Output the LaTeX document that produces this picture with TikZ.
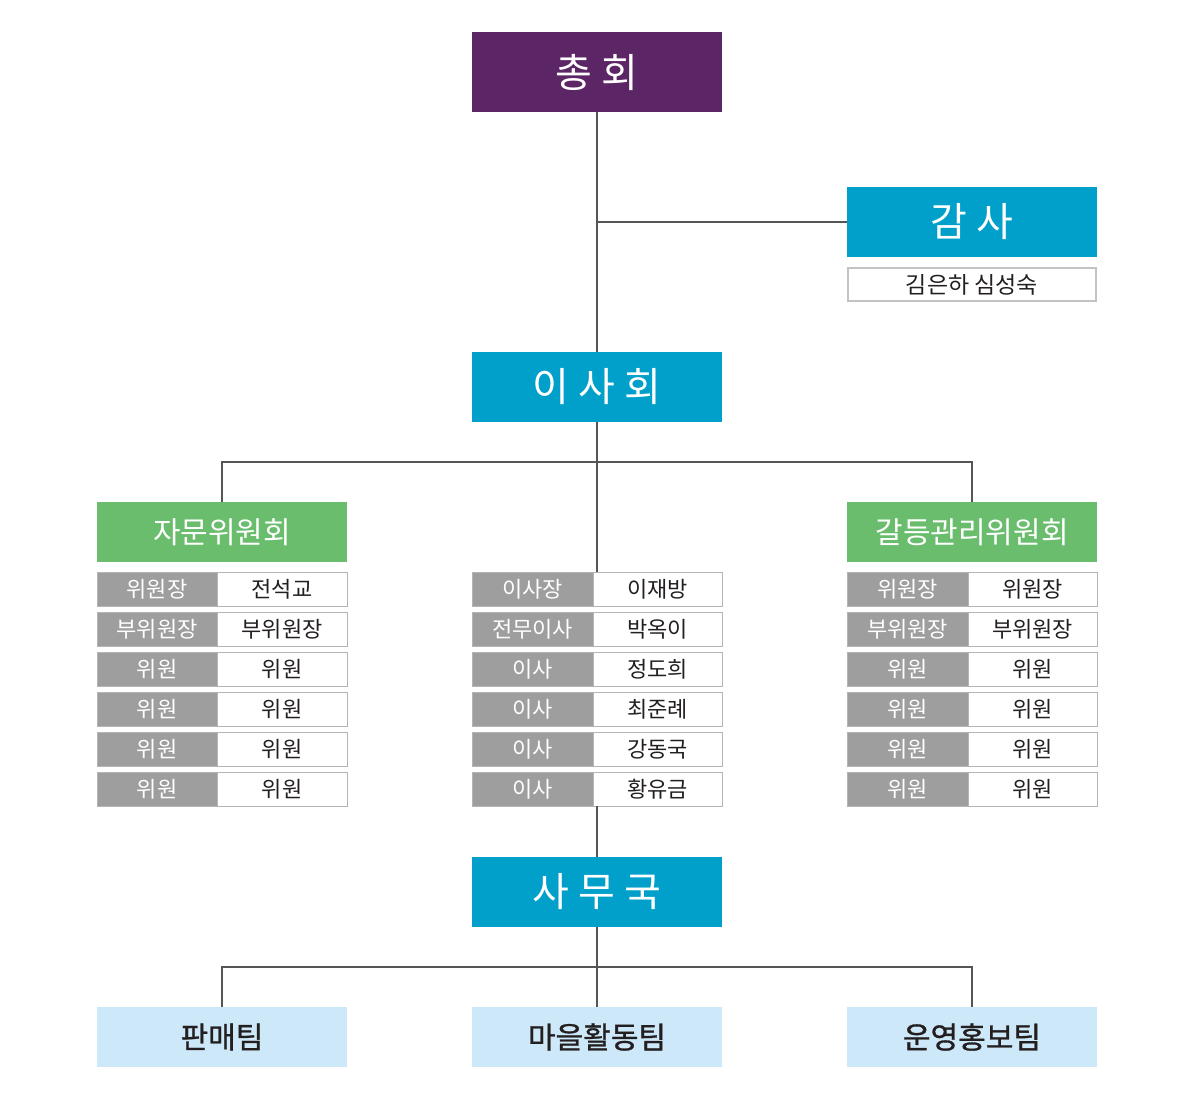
\documentclass[tikz,border=0pt]{standalone}
\usepackage{fontspec}
\setmainfont{Noto Sans CJK KR}
\newfontfamily\teamfont[FakeBold=1]{Noto Sans CJK KR}
\usepackage{tikz}
\usetikzlibrary{positioning}
\definecolor{chongpurple}{HTML}{5C2566}
\definecolor{orgblue}{HTML}{00A0CA}
\definecolor{orggreen}{HTML}{6BBD6E}
\definecolor{keygray}{HTML}{9E9E9E}
\definecolor{cellline}{HTML}{B4B4B4}
\definecolor{linegray}{HTML}{555555}
\definecolor{teamblue}{HTML}{CDE8F8}
\definecolor{textdark}{HTML}{231F20}
\tikzset{bluebox/.style={fill=orgblue,text=white,minimum width=250pt,minimum height=70pt,inner sep=0pt,outer sep=0pt,font=\fontsize{40}{44}\selectfont},
	 topbox/.style={bluebox,fill=chongpurple,minimum height=80pt},
	 greenbox/.style={fill=orggreen,text=white,minimum width=250pt,minimum height=60pt,inner sep=0pt,outer sep=0pt,font=\fontsize{30}{34}\selectfont},
	 namebox/.style={draw=cellline!80,line width=2pt,text=textdark,minimum width=248pt,minimum height=33pt,inner sep=0pt,outer sep=0pt,font=\fontsize{23}{26}\selectfont},
	 keycell/.style={fill=keygray,draw=cellline,line width=1pt,text=white,minimum width=120pt,minimum height=34pt,inner sep=0pt,outer sep=0pt,font=\fontsize{22}{26}\selectfont},
	 valcell/.style={keycell,fill=white,text=textdark,minimum width=130pt},
	 teambox/.style={fill=teamblue,text=textdark,minimum width=250pt,minimum height=60pt,inner sep=0pt,outer sep=0pt,font=\teamfont\fontsize{30}{34}\selectfont},
	 conn/.style={draw=linegray,line width=2pt},
	 node distance = 6pt
	 }
\begin{document}
\begin{tikzpicture}[x=1pt,y=-1pt] % 조직도
	\useasboundingbox (0,0) rectangle (1200,1100);
	\node[topbox] (ch) at (597,72) {총 회};
	\node[bluebox] (gs) at (972,222) {감 사};
	\node[namebox] (gsn) [below=11pt of gs] {김은하 심성숙};
	\node[bluebox] (ish) at (597,387) {이 사 회};
	\node[greenbox] (jm) at (222,532) {자문위원회};
	\node[greenbox] (gd) at (972,532) {갈등관리위원회};
	% 자문위원회
	\node[keycell,anchor=north west] (jk1) at (97,572) {위원장};
	\node[keycell] (jk2) [below=of jk1] {부위원장};
	\node[keycell] (jk3) [below=of jk2] {위원};
	\node[keycell] (jk4) [below=of jk3] {위원};
	\node[keycell] (jk5) [below=of jk4] {위원};
	\node[keycell] (jk6) [below=of jk5] {위원};
	\node[valcell] (jv1) [right=0pt of jk1] {전석교};
	\node[valcell] (jv2) [right=0pt of jk2] {부위원장};
	\node[valcell] (jv3) [right=0pt of jk3] {위원};
	\node[valcell] (jv4) [right=0pt of jk4] {위원};
	\node[valcell] (jv5) [right=0pt of jk5] {위원};
	\node[valcell] (jv6) [right=0pt of jk6] {위원};
	% 이사회
	\node[keycell,anchor=north west,minimum width=121pt] (ik1) at (472,572) {이사장};
	\node[keycell,minimum width=121pt] (ik2) [below=of ik1] {전무이사};
	\node[keycell,minimum width=121pt] (ik3) [below=of ik2] {이사};
	\node[keycell,minimum width=121pt] (ik4) [below=of ik3] {이사};
	\node[keycell,minimum width=121pt] (ik5) [below=of ik4] {이사};
	\node[keycell,minimum width=121pt] (ik6) [below=of ik5] {이사};
	\node[valcell,minimum width=129pt] (iv1) [right=0pt of ik1] {이재방};
	\node[valcell,minimum width=129pt] (iv2) [right=0pt of ik2] {박옥이};
	\node[valcell,minimum width=129pt] (iv3) [right=0pt of ik3] {정도희};
	\node[valcell,minimum width=129pt] (iv4) [right=0pt of ik4] {최준례};
	\node[valcell,minimum width=129pt] (iv5) [right=0pt of ik5] {강동국};
	\node[valcell,minimum width=129pt] (iv6) [right=0pt of ik6] {황유금};
	% 갈등관리위원회
	\node[keycell,anchor=north west,minimum width=121pt] (gk1) at (847,572) {위원장};
	\node[keycell,minimum width=121pt] (gk2) [below=of gk1] {부위원장};
	\node[keycell,minimum width=121pt] (gk3) [below=of gk2] {위원};
	\node[keycell,minimum width=121pt] (gk4) [below=of gk3] {위원};
	\node[keycell,minimum width=121pt] (gk5) [below=of gk4] {위원};
	\node[keycell,minimum width=121pt] (gk6) [below=of gk5] {위원};
	\node[valcell,minimum width=129pt] (gv1) [right=0pt of gk1] {위원장};
	\node[valcell,minimum width=129pt] (gv2) [right=0pt of gk2] {부위원장};
	\node[valcell,minimum width=129pt] (gv3) [right=0pt of gk3] {위원};
	\node[valcell,minimum width=129pt] (gv4) [right=0pt of gk4] {위원};
	\node[valcell,minimum width=129pt] (gv5) [right=0pt of gk5] {위원};
	\node[valcell,minimum width=129pt] (gv6) [right=0pt of gk6] {위원};
	% 사무국
	\node[bluebox] (sm) at (597,892) {사 무 국};
	\node[teambox] (tm1) at (222,1037) {판매팀};
	\node[teambox] (tm2) at (597,1037) {마을활동팀};
	\node[teambox] (tm3) at (972,1037) {운영홍보팀};
	\coordinate (b1) at (597,462);
	\coordinate (b2) at (597,967);
	\draw[conn] (ch) to (ish); \draw[conn] (gs.west) to (gs.west -| ch.south);
	\draw[conn] (ish.south) to (ish.south |- ik1.north);
	\draw[conn] (jm.north) |- (gd.north |- b1) to (gd.north);
	\draw[conn] (ik6.south -| ish.south) to (sm.north);
	\draw[conn] (sm.south) to (tm2.north);
	\draw[conn] (tm1.north) |- (tm3.north |- b2) to (tm3.north);
\end{tikzpicture}
\end{document}
